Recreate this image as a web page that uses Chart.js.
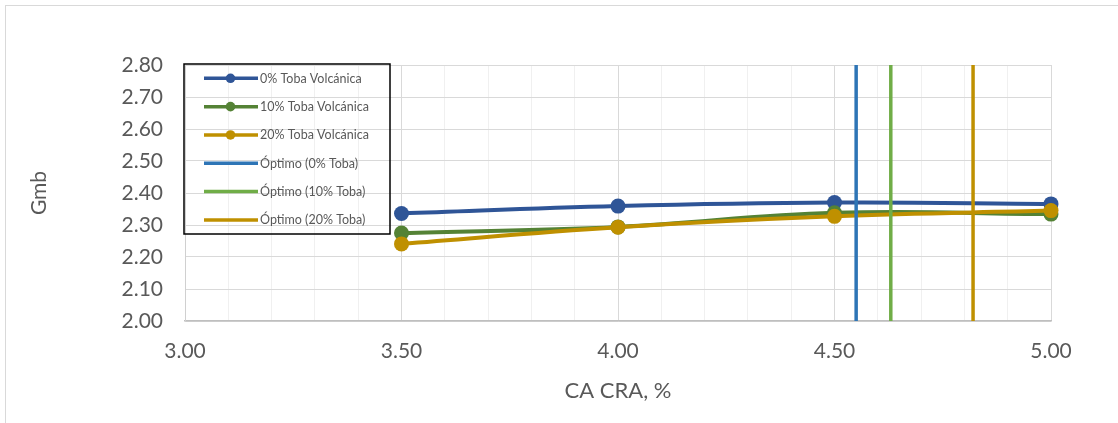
<!DOCTYPE html>
<html lang="es">
<head>
<meta charset="utf-8">
<title>Gmb vs CA CRA</title>
<script src="https://cdn.jsdelivr.net/npm/chart.js@4/dist/chart.umd.min.js"></script>
<style>
  html, body { margin: 0; padding: 0; background: #ffffff; }
  #wrap { position: relative; width: 1118px; height: 423px; overflow: hidden; }
  #frame { position: absolute; left: 5px; top: 5px; width: 1200px; height: 500px; border: 1px solid #d9d9d9; box-sizing: border-box; }
  #chart { position: absolute; left: 0; top: 0; }
</style>
</head>
<body>
<div id="wrap">
  <div id="frame"></div>
  <canvas id="chart" width="1118" height="423"></canvas>
</div>
<script>
// Asphalt content (CA CRA, %) and bulk specific gravity (Gmb) per mix
const asphaltContent = [3.5, 4.0, 4.5, 5.0];
const gmb0 = [2.336, 2.359, 2.370, 2.366];
const gmb10 = [2.275, 2.294, 2.338, 2.334];
const gmb20 = [2.241, 2.293, 2.327, 2.345];

// Optimum asphalt content for each mix
const optimum0 = 4.55;
const optimum10 = 4.63;
const optimum20 = 4.82;

const seriesNames = ['0% Toba Volcánica', '10% Toba Volcánica', '20% Toba Volcánica'];
const optimumNames = ['Óptimo (0% Toba)', 'Óptimo (10% Toba)', 'Óptimo (20% Toba)'];

const yMin = 2.0, yMax = 2.8;
const TEXT = '#595959';
const FONT = 'Lato, "DejaVu Sans", sans-serif';

const toPoints = (xs, ys) => xs.map((x, i) => ({ x: x, y: ys[i] }));
const vertical = x => [{ x: x, y: yMin }, { x: x, y: yMax }];

function seriesDataset(label, values, color, order) {
  return {
    label: label,
    data: toPoints(asphaltContent, values),
    borderColor: color,
    backgroundColor: color,
    borderWidth: 4,
    pointRadius: 7.5,
    pointHoverRadius: 7.5,
    pointBorderWidth: 0,
    tension: 0.4,
    clip: false,
    order: order
  };
}

function optimumDataset(label, x, color) {
  return {
    label: label,
    data: vertical(x),
    borderColor: color,
    backgroundColor: color,
    borderWidth: 3.5,
    pointRadius: 0,
    tension: 0,
    order: 0
  };
}

// Legend box drawn inside the plot area, top-left, with no fill
const boxLegend = {
  id: 'boxLegend',
  afterDraw(chart) {
    const { ctx, chartArea } = chart;
    const left = chartArea.left - 1;
    const top = chartArea.top - 1;
    const width = 206;
    const height = 170;
    const rowH = 28.33;
    ctx.save();
    ctx.strokeStyle = '#000000';
    ctx.lineWidth = 1.5;
    ctx.strokeRect(left, top, width, height);
    ctx.font = '12.5px ' + FONT;
    ctx.textBaseline = 'middle';
    ctx.textAlign = 'left';
    chart.data.datasets.forEach((ds, i) => {
      const y = top + 14.3 + i * rowH;
      const x0 = left + 20;
      const x1 = left + 74;
      ctx.strokeStyle = ds.borderColor;
      ctx.lineWidth = 3.5;
      ctx.lineCap = 'butt';
      ctx.beginPath();
      ctx.moveTo(x0, y);
      ctx.lineTo(x1, y);
      ctx.stroke();
      if (ds.pointRadius > 0) {
        ctx.fillStyle = ds.backgroundColor;
        ctx.beginPath();
        ctx.arc((x0 + x1) / 2 - 0.5, y, 4.8, 0, Math.PI * 2);
        ctx.fill();
      }
      ctx.fillStyle = TEXT;
      ctx.fillText(ds.label, x1 + 2, y + 0.5);
    });
    ctx.restore();
  }
};

const isMajor = v => Math.round(v * 10) % 5 === 0;

new Chart(document.getElementById('chart'), {
  type: 'line',
  data: {
    datasets: [
      seriesDataset(seriesNames[0], gmb0, '#2f5597', 3),
      seriesDataset(seriesNames[1], gmb10, '#548235', 2),
      seriesDataset(seriesNames[2], gmb20, '#bf9000', 1),
      optimumDataset(optimumNames[0], optimum0, '#2e75b6'),
      optimumDataset(optimumNames[1], optimum10, '#70ad47'),
      optimumDataset(optimumNames[2], optimum20, '#bf9000')
    ]
  },
  options: {
    responsive: false,
    animation: false,
    devicePixelRatio: 1,
    layout: { padding: { top: 65, right: 67, bottom: 0, left: 0 } },
    plugins: {
      legend: { display: false },
      tooltip: { enabled: false }
    },
    scales: {
      x: {
        type: 'linear',
        min: 3.0,
        max: 5.0,
        afterFit(scale) { scale.height = 102; },
        ticks: {
          stepSize: 0.1,
          autoSkip: false,
          maxRotation: 0,
          padding: 18,
          color: TEXT,
          font: { family: FONT, size: 21 },
          callback: v => (isMajor(v) ? Number(v).toFixed(2) : '')
        },
        grid: {
          drawTicks: false,
          color: ctx => (ctx.tick && isMajor(ctx.tick.value) ? '#d9d9d9' : '#f0f0f0'),
          lineWidth: 1
        },
        border: { color: '#bfbfbf', width: 1.5 },
        title: {
          display: true,
          text: 'CA CRA, %',
          color: TEXT,
          font: { family: FONT, size: 22 },
          padding: { top: 0, bottom: 18.5 }
        }
      },
      y: {
        type: 'linear',
        min: yMin,
        max: yMax,
        afterFit(scale) { scale.width = 185; },
        ticks: {
          stepSize: 0.1,
          padding: 22,
          color: TEXT,
          font: { family: FONT, size: 21 },
          callback: v => Number(v).toFixed(2)
        },
        grid: { drawTicks: false, color: '#d9d9d9', lineWidth: 1 },
        border: { color: '#d0d0d0', width: 1 },
        title: {
          display: true,
          text: 'Gmb',
          color: TEXT,
          font: { family: FONT, size: 21 },
          padding: { top: 27, bottom: 0 }
        }
      }
    }
  },
  plugins: [boxLegend]
});
</script>
</body>
</html>
